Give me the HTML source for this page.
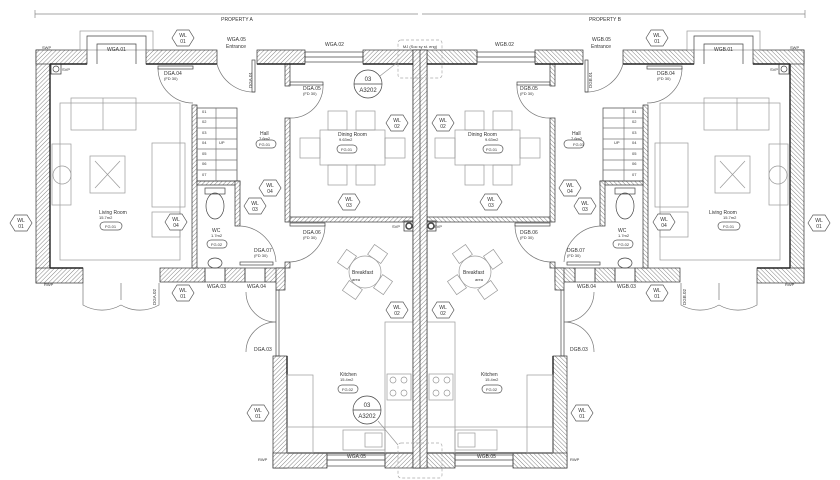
<!DOCTYPE html>
<html><head><meta charset="utf-8"><style>
html,body{margin:0;padding:0;background:#fff;}
svg{display:block;font-family:"Liberation Sans",sans-serif;}
text{fill:#333;}
</style></head><body>
<svg width="840" height="480" viewBox="0 0 840 480" xmlns="http://www.w3.org/2000/svg">
<defs>
<pattern id="h" width="3" height="3" patternUnits="userSpaceOnUse" patternTransform="rotate(45)">
<rect width="3" height="3" fill="#fff"/><line x1="0" y1="0" x2="0" y2="3" stroke="#777" stroke-width="0.9"/></pattern>
<polygon id="hx" points="-11,0 -6,-8 6,-8 11,0 6,8 -6,8" fill="#fff" stroke="#555" stroke-width="0.7"/>
<g id="half" stroke="#444" stroke-width="0.7" fill="none">
  <line x1="35" y1="14" x2="418" y2="14" stroke="#888"/>
  <line x1="35" y1="10" x2="35" y2="18" stroke="#888"/>
  <g fill="url(#h)" stroke="#333">
    <rect x="36" y="50" width="14" height="233"/>
    <rect x="36" y="50" width="51" height="14"/>
    <rect x="146" y="50" width="71" height="14"/>
    <rect x="257" y="50" width="48" height="14"/>
    <rect x="363" y="50" width="57" height="14"/>
    <rect x="36" y="268" width="47" height="15"/>
    <rect x="160" y="268" width="45" height="14"/>
    <rect x="225" y="268" width="20" height="14"/>
    <rect x="265" y="268" width="20" height="14"/>
    <rect x="276" y="268" width="9" height="22"/>
    <rect x="273" y="356" width="14" height="112"/>
    <rect x="273" y="453" width="54" height="15"/>
    <rect x="385" y="453" width="35" height="15"/>
    <rect x="413" y="50" width="7" height="418"/>
    <rect x="192" y="105" width="5" height="163"/>
    <rect x="197" y="181" width="43" height="4"/>
    <rect x="235" y="181" width="5" height="45"/>
    <rect x="285" y="64" width="5" height="22"/>
    <rect x="285" y="118" width="5" height="104"/>
    <rect x="290" y="217" width="123" height="5"/>
    <rect x="285" y="262" width="5" height="6"/>
  </g>
  <line x1="50" y1="64" x2="50" y2="268" stroke="#222" stroke-width="1.4"/>
  <line x1="50" y1="64" x2="87" y2="64" stroke="#222" stroke-width="1.4"/>
  <line x1="146" y1="64" x2="217" y2="64" stroke="#222" stroke-width="1.4"/>
  <line x1="257" y1="64" x2="305" y2="64" stroke="#222" stroke-width="1.4"/>
  <line x1="363" y1="64" x2="413" y2="64" stroke="#222" stroke-width="1.4"/>
  <line x1="50" y1="268" x2="83" y2="268" stroke="#222" stroke-width="1.4"/>
  <line x1="287" y1="356" x2="287" y2="453" stroke="#222" stroke-width="1.4"/>
  <line x1="287" y1="453" x2="413" y2="453" stroke="#222" stroke-width="1.4"/>
  <rect x="80" y="31" width="73" height="19" stroke="#999"/>
  <polyline points="87,50 87,36 146,36 146,50"/>
  <polyline points="97,64 97,44 136,44 136,64"/>
  <rect x="305" y="52" width="58" height="10"/>
  <line x1="305" y1="57" x2="363" y2="57"/>
  <rect x="205" y="268" width="20" height="14"/>
  <rect x="245" y="268" width="20" height="14"/>
  <rect x="327" y="455" width="58" height="11"/>
  <line x1="327" y1="460" x2="385" y2="460"/>
  <path d="M158,68 A35,35 0 0 0 193,103" stroke="#777"/>
  <rect x="158" y="66" width="35" height="3"/>
  <path d="M217,64 A38,38 0 0 0 255,92" stroke="#777"/>
  <rect x="252" y="60" width="3" height="32"/>
  <path d="M290,118 A32,32 0 0 0 323,84" stroke="#777"/>
  <rect x="290" y="82" width="33" height="3"/>
  <path d="M325,225 A37,37 0 0 1 290,262" stroke="#777"/>
  <rect x="290" y="223" width="35" height="3"/>
  <path d="M240,226 A38,38 0 0 1 276,262" stroke="#777"/>
  <rect x="240" y="262" width="33" height="3"/>
  <path d="M83,283 L83,305 A38,38 0 0 0 121,305 A38,38 0 0 0 159,305 L159,283" stroke="#777"/>
  <path d="M121,283 L121,300" stroke="#777"/>
  <path d="M246,292 A30,30 0 0 0 276,322 M246,352 A30,30 0 0 1 276,322" stroke="#777"/>
  <rect x="276" y="290" width="3" height="66"/>
  <rect x="197" y="108" width="40" height="73"/>
  <g stroke="#777">
  <line x1="197" y1="118" x2="237" y2="118"/><line x1="197" y1="128" x2="237" y2="128"/>
  <line x1="197" y1="139" x2="237" y2="139"/><line x1="197" y1="149" x2="237" y2="149"/>
  <line x1="197" y1="160" x2="237" y2="160"/><line x1="197" y1="170" x2="237" y2="170"/>
  <line x1="216" y1="108" x2="216" y2="181"/></g>
  <ellipse cx="215" cy="206" rx="9" ry="13"/>
  <rect x="205" y="188" width="20" height="6"/>
  <ellipse cx="215" cy="263" rx="7" ry="5"/>
  <g stroke="#999">
  <rect x="60" y="103" width="120" height="157"/>
  <rect x="71" y="98" width="65" height="32"/>
  <line x1="103" y1="98" x2="103" y2="130"/>
  <rect x="152" y="143" width="33" height="64"/>
  <rect x="52" y="144" width="19" height="61"/>
  <circle cx="62" cy="175" r="9"/>
  <rect x="90" y="156" width="35" height="37"/>
  <line x1="95" y1="161" x2="120" y2="188"/><line x1="120" y1="161" x2="95" y2="188"/>
  <rect x="152" y="212" width="28" height="25"/>
  <rect x="320" y="130" width="65" height="35"/>
  <rect x="328" y="111" width="19" height="19"/><rect x="356" y="111" width="19" height="19"/>
  <rect x="328" y="165" width="19" height="20"/><rect x="356" y="165" width="19" height="20"/>
  <rect x="300" y="138" width="20" height="20"/><rect x="385" y="138" width="20" height="20"/>
  <circle cx="365" cy="272" r="16"/>
  <g transform="rotate(35 365 272)"><rect x="357" y="244" width="16" height="12"/><rect x="357" y="288" width="16" height="12"/><rect x="337" y="264" width="12" height="16"/><rect x="381" y="264" width="12" height="16"/></g>
  <rect x="385" y="322" width="28" height="131"/>
  <rect x="287" y="427" width="126" height="26"/>
  <rect x="287" y="375" width="26" height="78"/>
  <rect x="387" y="374" width="24" height="26"/>
  <circle cx="393" cy="380" r="3"/><circle cx="404" cy="380" r="3"/><circle cx="393" cy="393" r="3"/><circle cx="404" cy="393" r="3"/>
  <rect x="343" y="430" width="42" height="20"/>
  <rect x="365" y="433" width="17" height="14"/>
  </g>
  <rect x="51" y="64" width="10" height="10" stroke="#333"/><circle cx="56" cy="69" r="3"/>
  <rect x="404" y="221" width="10" height="10" stroke="#333"/><circle cx="409" cy="226" r="3" stroke-width="1.5"/>
  <g stroke="#555"><rect x="256" y="140" width="20" height="8" rx="4"/><rect x="337" y="145" width="20" height="8" rx="4"/>
  <rect x="100" y="222" width="22" height="8" rx="4"/><rect x="207" y="240" width="20" height="8" rx="4"/>
  <rect x="338" y="385" width="20" height="8" rx="4"/></g>
</g>
</defs>
<use href="#half"/>
<use href="#half" transform="translate(840,0) scale(-1,1)"/>
<rect x="413" y="50" width="14" height="418" fill="url(#h)" stroke="#333" stroke-width="0.7"/>
<line x1="420" y1="50" x2="420" y2="468" stroke="#333" stroke-width="0.7"/>
<g stroke="#444" stroke-width="0.7" fill="#fff">
  <circle cx="368" cy="84" r="14"/><line x1="354" y1="84" x2="382" y2="84"/>
  <circle cx="367" cy="410" r="14"/><line x1="353" y1="410" x2="381" y2="410"/>
  <line x1="378" y1="421" x2="398" y2="445" stroke="#999"/>
  <line x1="380" y1="76" x2="398" y2="62" stroke="#999"/>
  <rect x="398" y="40" width="44" height="38" rx="3" stroke="#aaa" stroke-dasharray="3,2" fill="none"/>
  <rect x="398" y="443" width="44" height="35" rx="3" stroke="#aaa" stroke-dasharray="3,2" fill="none"/>
</g>
<g font-size="5" text-anchor="middle">
<g transform="translate(183,38)"><use href="#hx"/><text y="-1">WL</text><text y="5">01</text></g>
<g transform="translate(21,223)"><use href="#hx"/><text y="-1">WL</text><text y="5">01</text></g>
<g transform="translate(176,222)"><use href="#hx"/><text y="-1">WL</text><text y="5">04</text></g>
<g transform="translate(183,293)"><use href="#hx"/><text y="-1">WL</text><text y="5">01</text></g>
<g transform="translate(258,413)"><use href="#hx"/><text y="-1">WL</text><text y="5">01</text></g>
<g transform="translate(255,206)"><use href="#hx"/><text y="-1">WL</text><text y="5">03</text></g>
<g transform="translate(270,188)"><use href="#hx"/><text y="-1">WL</text><text y="5">04</text></g>
<g transform="translate(349,202)"><use href="#hx"/><text y="-1">WL</text><text y="5">03</text></g>
<g transform="translate(397,123)"><use href="#hx"/><text y="-1">WL</text><text y="5">02</text></g>
<g transform="translate(397,310)"><use href="#hx"/><text y="-1">WL</text><text y="5">02</text></g>
<g transform="translate(657,38)"><use href="#hx"/><text y="-1">WL</text><text y="5">01</text></g>
<g transform="translate(819,223)"><use href="#hx"/><text y="-1">WL</text><text y="5">01</text></g>
<g transform="translate(664,222)"><use href="#hx"/><text y="-1">WL</text><text y="5">04</text></g>
<g transform="translate(657,293)"><use href="#hx"/><text y="-1">WL</text><text y="5">01</text></g>
<g transform="translate(582,413)"><use href="#hx"/><text y="-1">WL</text><text y="5">01</text></g>
<g transform="translate(585,206)"><use href="#hx"/><text y="-1">WL</text><text y="5">03</text></g>
<g transform="translate(570,188)"><use href="#hx"/><text y="-1">WL</text><text y="5">04</text></g>
<g transform="translate(491,202)"><use href="#hx"/><text y="-1">WL</text><text y="5">03</text></g>
<g transform="translate(443,123)"><use href="#hx"/><text y="-1">WL</text><text y="5">02</text></g>
<g transform="translate(443,310)"><use href="#hx"/><text y="-1">WL</text><text y="5">02</text></g>
</g>
<g font-size="5">
<text x="237" y="21" text-anchor="middle" fill="#777">PROPERTY A</text>
<text x="605" y="21" text-anchor="middle" fill="#777">PROPERTY B</text>
<text x="420" y="48" text-anchor="middle" font-size="4">MJ (Soc sy st. eng)</text>
<text x="107" y="51">WGA.01</text><text x="714" y="51">WGB.01</text>
<text x="227" y="41">WGA.05</text><text x="226" y="48">Entrance</text>
<text x="592" y="41">WGB.05</text><text x="591" y="48">Entrance</text>
<text x="325" y="46">WGA.02</text><text x="495" y="46">WGB.02</text>
<text x="164" y="75">DGA.04</text><text x="164" y="80" font-size="4">(FD 30)</text>
<text x="657" y="75">DGB.04</text><text x="657" y="80" font-size="4">(FD 30)</text>
<text x="303" y="90">DGA.05</text><text x="303" y="95" font-size="4">(FD 30)</text>
<text x="520" y="90">DGB.05</text><text x="520" y="95" font-size="4">(FD 30)</text>
<text x="303" y="234">DGA.06</text><text x="303" y="239" font-size="4">(FD 30)</text>
<text x="520" y="234">DGB.06</text><text x="520" y="239" font-size="4">(FD 30)</text>
<text x="254" y="252">DGA.07</text><text x="254" y="257" font-size="4">(FD 30)</text>
<text x="567" y="252">DGB.07</text><text x="567" y="257" font-size="4">(FD 30)</text>
<text x="207" y="288">WGA.03</text><text x="247" y="288">WGA.04</text>
<text x="617" y="288">WGB.03</text><text x="577" y="288">WGB.04</text>
<text x="254" y="351">DGA.03</text><text x="570" y="351">DGB.03</text>
<text x="347" y="458">WGA.05</text><text x="477" y="458">WGB.05</text>
<text x="260" y="135">Hall</text><text x="259" y="140" font-size="4">7.6m2</text><text x="259" y="146" font-size="4">FG.01</text>
<text x="572" y="135">Hall</text><text x="571" y="140" font-size="4">7.6m2</text><text x="573" y="146" font-size="4">FG.01</text>
<text x="338" y="136">Dining Room</text><text x="339" y="141" font-size="4">9.63m2</text><text x="341" y="151" font-size="4">FG.01</text>
<text x="468" y="136">Dining Room</text><text x="485" y="141" font-size="4">9.63m2</text><text x="486" y="151" font-size="4">FG.01</text>
<text x="99" y="214">Living Room</text><text x="99" y="219" font-size="4">15.7m2</text><text x="105" y="228" font-size="4">FG.01</text>
<text x="709" y="214">Living Room</text><text x="723" y="219" font-size="4">15.7m2</text><text x="723" y="228" font-size="4">FG.01</text>
<text x="212" y="232">WC</text><text x="211" y="237" font-size="4">1.7m2</text><text x="211" y="246" font-size="4">FG.02</text>
<text x="618" y="232">WC</text><text x="618" y="237" font-size="4">1.7m2</text><text x="618" y="246" font-size="4">FG.02</text>
<text x="352" y="274">Breakfast</text><text x="352" y="281" font-size="4">area</text>
<text x="463" y="274">Breakfast</text><text x="475" y="281" font-size="4">area</text>
<text x="340" y="376">Kitchen</text><text x="340" y="381" font-size="4">15.4m2</text><text x="342" y="391" font-size="4">FG.02</text>
<text x="481" y="376">Kitchen</text><text x="485" y="381" font-size="4">15.4m2</text><text x="486" y="391" font-size="4">FG.02</text>
<text x="368" y="81" text-anchor="middle" font-size="6">03</text><text x="368" y="92" text-anchor="middle" font-size="6">A3202</text>
<text x="367" y="407" text-anchor="middle" font-size="6">03</text><text x="367" y="418" text-anchor="middle" font-size="6">A3202</text>
<text x="42" y="49" font-size="4">SWP</text><text x="62" y="71" font-size="4">SVP</text>
<text x="44" y="286" font-size="4">RWP</text><text x="258" y="461" font-size="4">RWP</text>
<text x="790" y="49" font-size="4">SWP</text><text x="770" y="71" font-size="4">SVP</text>
<text x="785" y="286" font-size="4">RWP</text><text x="570" y="461" font-size="4">RWP</text>
<text x="392" y="228" font-size="4">SVP</text><text x="434" y="228" font-size="4">SVP</text>
<text x="202" y="113" font-size="4">01</text><text x="202" y="123" font-size="4">02</text><text x="202" y="134" font-size="4">03</text>
<text x="202" y="144" font-size="4">04</text><text x="202" y="155" font-size="4">05</text><text x="202" y="165" font-size="4">06</text>
<text x="202" y="176" font-size="4">07</text><text x="219" y="144" font-size="4">UP</text>
<text x="632" y="113" font-size="4">01</text><text x="632" y="123" font-size="4">02</text><text x="632" y="134" font-size="4">03</text>
<text x="632" y="144" font-size="4">04</text><text x="632" y="155" font-size="4">05</text><text x="632" y="165" font-size="4">06</text>
<text x="632" y="176" font-size="4">07</text><text x="614" y="144" font-size="4">UP</text>
<text transform="translate(252,88) rotate(-90)" font-size="4.5">DGA.01</text>
<text transform="translate(592,88) rotate(-90)" font-size="4.5">DGB.01</text>
<text transform="translate(156,305) rotate(-90)" font-size="4.5">DGA.02</text>
<text transform="translate(686,305) rotate(-90)" font-size="4.5">DGB.02</text>
</g>
</svg>
</body></html>
